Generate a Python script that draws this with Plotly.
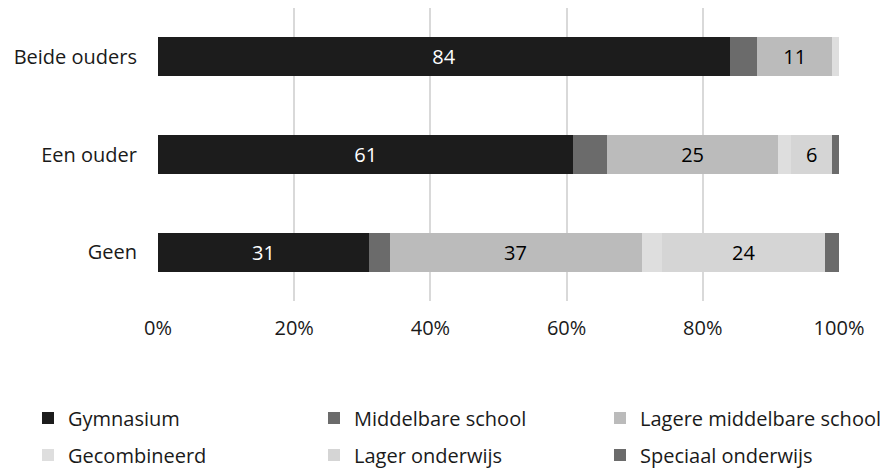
import plotly.graph_objects as go

groups = ["Beide ouders", "Een ouder", "Geen"]
series = ["Gymnasium", "Middelbare school", "Lagere middelbare school",
          "Gecombineerd", "Lager onderwijs", "Speciaal onderwijs"]
gymnasium = [84, 61, 31]
middelbare = [4, 5, 3]
lagere_middelbare = [11, 25, 37]
gecombineerd = [1, 2, 3]
lager_onderwijs = [0, 6, 24]
speciaal = [0, 1, 2]

values = [gymnasium, middelbare, lagere_middelbare, gecombineerd, lager_onderwijs, speciaal]
colors = ["#1c1c1c", "#6b6b6b", "#bbbbbb", "#dedede", "#d5d5d5", "#6b6b6b"]
text_colors = ["white", "black", "black", "black", "black", "black"]

FONT = "Open Sans"
FS = 20

# page body has an 8px margin, so everything below is shifted up/left by 8px
fig = go.Figure()
for i, (name, vals, col, tcol) in enumerate(zip(series, values, colors, text_colors)):
    fig.add_trace(go.Bar(
        name=name, y=groups, x=vals, orientation="h",
        marker=dict(color=col, line=dict(width=0)),
        text=[str(v) if v >= 6 else "" for v in vals],
        textposition="inside", insidetextanchor="middle",
        textfont=dict(color=tcol, size=FS, family=FONT),
        legend="legend" if i < 3 else "legend2",
        hoverinfo="skip",
    ))

leg = dict(orientation="h", x=-0.1745, xanchor="left", yanchor="middle",
           entrywidth=241, entrywidthmode="pixels", itemwidth=30,
           traceorder="normal", font=dict(size=FS), bgcolor="rgba(0,0,0,0)")

fig.update_layout(
    barmode="stack",
    bargap=0.6,
    width=895, height=468,
    margin=dict(l=150, r=0, t=0, b=175, autoexpand=False),
    plot_bgcolor="white", paper_bgcolor="white",
    font=dict(family=FONT, size=FS, color="#1a1a1a"),
    uniformtext=dict(minsize=FS, mode="show"),
    xaxis=dict(domain=[0, 681 / 745], range=[0, 100],
               tickvals=[0, 20, 40, 60, 80, 100],
               ticktext=["0%", "20%", "40%", "60%", "80%", "100%"],
               showgrid=True, gridcolor="#d9d9d9", gridwidth=1.5,
               zeroline=False, showline=False, ticks="outside", ticklen=9,
               tickcolor="rgba(0,0,0,0)", automargin=False),
    yaxis=dict(autorange="reversed", showgrid=False, zeroline=False,
               ticks="outside", ticklen=16, tickcolor="rgba(0,0,0,0)",
               automargin=False),
    legend=dict(leg, y=-0.399),
    legend2=dict(leg, y=-0.526),
)

fig.write_html("out.html")
